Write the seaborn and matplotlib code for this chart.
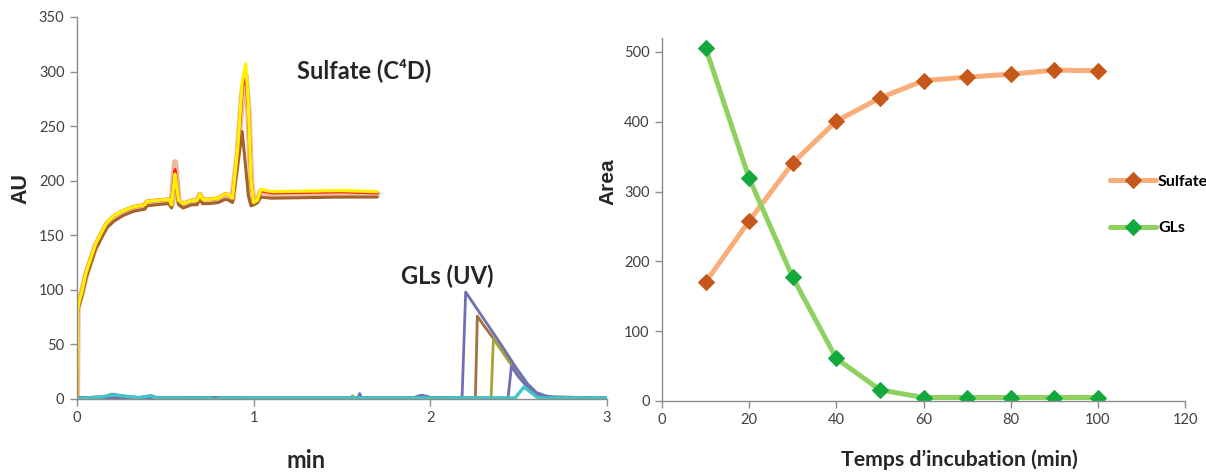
import numpy as np
import pandas as pd
import matplotlib
matplotlib.use("Agg")
import matplotlib.pyplot as plt
import seaborn as sns

# ---------------- data: left panel (electropherograms) ----------------
t_c4d = [0, 0.003, 0.01, 0.027, 0.05, 0.08, 0.105, 0.14, 0.17, 0.21, 0.26, 0.32,
         0.385, 0.395, 0.45, 0.52, 0.535, 0.555, 0.575, 0.6, 0.65, 0.68, 0.695,
         0.71, 0.75, 0.8, 0.84, 0.86, 0.88, 0.91, 0.935, 0.955, 0.97, 0.985,
         1.0, 1.02, 1.04, 1.1, 1.3, 1.5, 1.7]
c4d_tan = [0, 82, 88, 97, 113, 128, 140, 151, 160, 166, 171, 175,
           177, 180, 181, 182, 178, 217, 181, 178, 181, 181, 187,
           182, 182, 183, 187, 186, 183, 225, 280, 296, 265, 200,
           179, 181, 190, 188, 188.5, 189, 188]
c4d_brown = [0, 80, 85, 94, 110, 125, 137, 148, 157, 163, 168, 172,
             174, 177, 178, 179, 175, 204, 178, 175, 178, 178, 184,
             179, 179, 180, 183, 182, 180, 215, 245, 212, 186, 177,
             178, 180, 185, 184, 184.5, 185, 185]
c4d_red = [0, 80, 88, 98, 115, 130, 142, 153, 162, 168, 172.5, 176,
           178, 181, 182, 183, 178, 210, 182, 179, 182, 182, 188,
           183, 183, 184, 188, 187, 184, 228, 285, 298, 268, 200,
           180, 182, 191, 189, 189.5, 190, 189]
c4d_yellow = [0, 80, 88, 98, 115, 130, 142, 153, 162, 168, 172.5, 176,
              178, 181, 182, 183, 178, 206, 182, 179, 182, 182, 188,
              183, 183, 184, 188, 187, 184, 230, 290, 307, 270, 200,
              180, 182, 192, 190, 190.5, 191, 190]

uv_purple_t = [0, 0.15, 0.2, 0.25, 0.35, 0.42, 0.45, 0.6, 1.0, 1.59, 1.6, 1.61,
               1.9, 1.95, 2.0, 2.17, 2.18, 2.2, 2.3, 2.4, 2.48, 2.55, 2.6, 2.65,
               2.7, 2.8, 3.0]
uv_purple_v = [1, 2, 4.5, 3, 1.5, 3, 1.5, 1.5, 1, 1, 5, 1,
               1, 3.5, 1.5, 1, 3, 98, 74, 50, 30, 14, 6, 3,
               1.5, 1, 1]
uv_brown_t = [0, 0.15, 0.2, 0.3, 1.9, 1.95, 2.0, 2.255, 2.266, 2.3, 2.4, 2.48,
              2.55, 2.6, 2.65, 2.7, 3.0]
uv_brown_v = [1, 2, 4, 1.5, 1, 3, 1.5, 1, 76, 68, 46, 27,
              12, 5, 2, 1, 1]
uv_olive_t = [0, 1.55, 1.56, 1.57, 2.344, 2.357, 2.4, 2.48, 2.55, 2.6, 2.65, 3.0]
uv_olive_v = [1, 1, 3, 1, 1, 55, 45, 26, 11, 4, 2, 1]
uv_purple2_t = [0, 2.44, 2.459, 2.5, 2.55, 2.6, 2.65, 3.0]
uv_purple2_v = [1, 1, 30, 20, 11, 4, 2, 1]
uv_cyan_t = [0, 0.02, 0.15, 0.2, 0.25, 0.35, 0.42, 0.44, 0.47, 0.75, 0.78, 0.81,
             1.0, 2.48, 2.53, 2.57, 2.6, 2.63, 3.0]
uv_cyan_v = [1, 0.5, 2, 4, 3, 1, 3, 1, 1, 1, -0.5, 1,
             1, 1, 11, 6, 2, 1, 1]

# ---------------- data: right panel (kinetics) ----------------
incubation_min = [10, 20, 30, 40, 50, 60, 70, 80, 90, 100]
area_sulfate = [170, 258, 341, 401, 434, 459, 464, 468, 474, 473]
area_gls = [506, 319, 177, 61, 16, 5, 5, 5, 5, 5]

# ---------------- figure ----------------
sns.set_style("white")
plt.rcParams['font.family'] = ['Lato', 'DejaVu Sans']

W, H = 1206, 476
fig = plt.figure(figsize=(W / 100, H / 100), dpi=100)

def frac_box(x0, y0, x1, y1):
    return [x0 / W, 1 - y1 / H, (x1 - x0) / W, (y1 - y0) / H]

axL = fig.add_axes(frac_box(77, 17, 607, 399))
axR = fig.add_axes(frac_box(662, 38, 1185, 401))

# left traces
sulf_traces = [
    (c4d_tan, "#EBBC9C", 4.5),
    (c4d_brown, "#A2622E", 2.2),
    (c4d_red, "#FF1A1A", 2.4),
    (c4d_yellow, "#FFF200", 2.4),
]
for vals, col, lw in sulf_traces:
    sns.lineplot(x=t_c4d, y=vals, ax=axL, color=col, lw=lw, sort=False,
                 estimator=None)

uv_traces = [
    (uv_brown_t, uv_brown_v, "#A5703F", 2.0),
    (uv_olive_t, uv_olive_v, "#A4A43A", 2.0),
    (uv_purple_t, uv_purple_v, "#6E70B2", 2.0),
    (uv_purple2_t, uv_purple2_v, "#6E70B2", 2.0),
    (uv_cyan_t, uv_cyan_v, "#3EC6C8", 2.4),
]
for tt, vv, col, lw in uv_traces:
    sns.lineplot(x=tt, y=vv, ax=axL, color=col, lw=lw, sort=False,
                 estimator=None)

axL.set_xlim(0, 3)
axL.set_ylim(0, 350)
axL.set_xticks([0, 1, 2, 3])
axL.set_yticks(range(0, 351, 50))

# right panel
df = pd.DataFrame({"t": incubation_min, "Sulfate": area_sulfate, "GLs": area_gls})
sns.lineplot(data=df, x="t", y="Sulfate", ax=axR, color="#F9AE7A", lw=3.6,
             marker="D", markersize=8.5, markerfacecolor="#C5581A",
             markeredgecolor="#C5581A", label="Sulfate")
sns.lineplot(data=df, x="t", y="GLs", ax=axR, color="#8FD160", lw=3.6,
             marker="D", markersize=8.5, markerfacecolor="#12AA3C",
             markeredgecolor="#12AA3C", label="GLs")
axR.set_xlim(0, 120)
axR.set_ylim(0, 520)
axR.set_xticks(range(0, 121, 20))
axR.set_yticks(range(0, 501, 100))

for ax in (axL, axR):
    sns.despine(ax=ax)
    ax.set_xlabel("")
    ax.set_ylabel("")
    for s in ("left", "bottom"):
        ax.spines[s].set_color("#8C8C8C")
        ax.spines[s].set_linewidth(1.0)
    ax.tick_params(axis="both", which="both", direction="out", length=5,
                   width=1, color="#8C8C8C", labelcolor="#404040",
                   labelsize=10.5, pad=4)
    ax.tick_params(left=True, bottom=True)
    ax.set_facecolor("white")

leg = axR.legend(loc="center left", bbox_to_anchor=(1110 / W, 1 - 205 / H),
                 bbox_transform=fig.transFigure, frameon=False,
                 prop={"weight": "bold", "size": 11.5},
                 handlelength=2.9, handletextpad=0.1, labelspacing=2.0,
                 borderaxespad=0, borderpad=0, numpoints=1)
for txt in leg.get_texts():
    txt.set_color("black")

# labels as figure text
def ftext(x, y, s, **kw):
    fig.text(x / W, 1 - y / H, s, ha="center", va="center", **kw)

ftext(21, 189, "AU", rotation=90, fontsize=15.5, fontweight="bold",
      family=["Liberation Sans", "DejaVu Sans"])
ftext(608, 182, "Area", rotation=90, fontsize=15, fontweight="bold",
      family=["Liberation Sans", "DejaVu Sans"])
ftext(306, 460, "min", fontsize=17, fontweight="bold")
ftext(959, 460, "Temps d\u2019incubation (min)", fontsize=15.3, fontweight="bold")
ftext(364, 70, "Sulfate (C\u2074D)", fontsize=17, fontweight="bold")
ftext(447, 276, "GLs (UV)", fontsize=17, fontweight="bold")

fig.savefig("out.png", dpi=100, facecolor="white")
